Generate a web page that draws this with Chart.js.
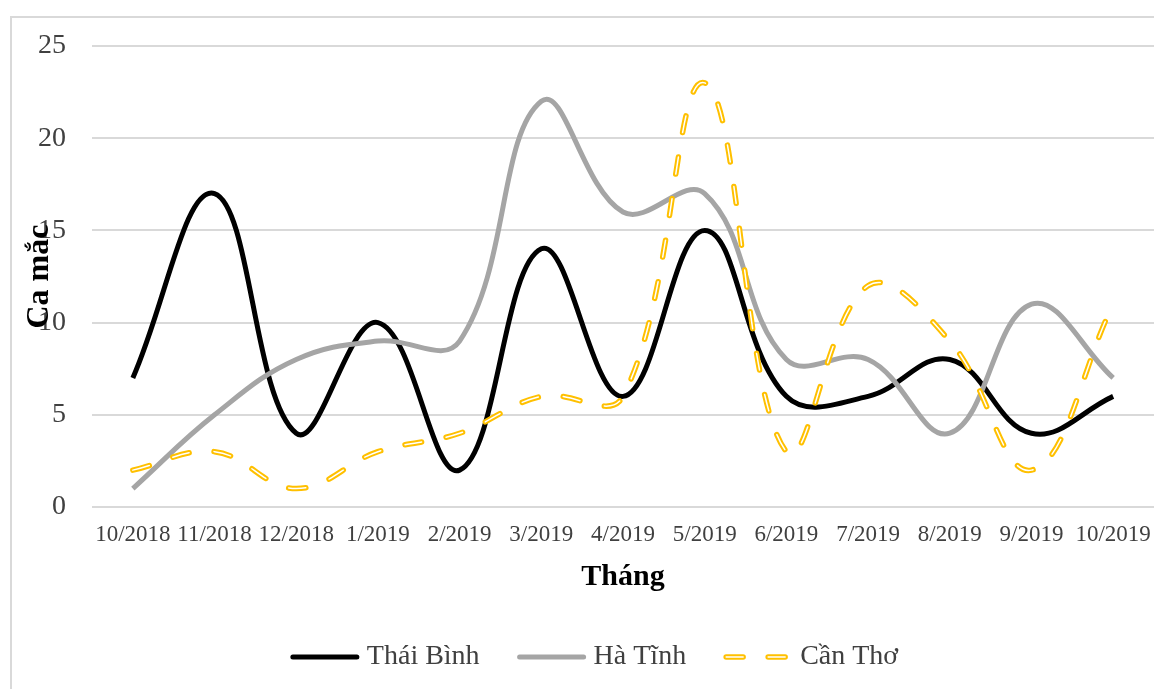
<!DOCTYPE html>
<html>
<head>
<meta charset="utf-8">
<script src="https://cdn.jsdelivr.net/npm/chart.js@4/dist/chart.umd.min.js"></script>
<style>
  html, body { margin: 0; padding: 0; background: #fff; overflow: hidden; }
  #wrap { position: relative; width: 1154px; height: 689px; overflow: hidden; }
  #frame { position: absolute; left: 10px; top: 16px; width: 1200px; height: 700px; border: 2px solid #d9d9d9; box-sizing: border-box; }
  #chart { position: absolute; left: 0; top: 0; }
</style>
</head>
<body>
<div id="wrap">
  <div id="frame"></div>
  <canvas id="chart" width="1160" height="689"></canvas>
</div>
<script>
const months = ['10/2018', '11/2018', '12/2018', '1/2019', '2/2019', '3/2019', '4/2019',
  '5/2019', '6/2019', '7/2019', '8/2019', '9/2019', '10/2019'];
const thaiBinh = [7, 17, 4, 10, 2, 14, 6, 15, 6, 6, 8, 4, 6];
const haTinh = [1, 5, 8, 9, 9, 22, 16, 17, 8, 8, 4, 11, 7];
const canTho = [2, 3, 1, 3, 4, 6, 6, 23, 3, 12, 9, 2, 11];
const yTicks = [0, 5, 10, 15, 20, 25];

const serif = '"Liberation Serif", "Times New Roman", serif';
const dash = [17, 25];

// y title overlaps the tick labels like in the original, so draw it by hand
const yTitle = {
  id: 'yTitle',
  afterDraw(chart) {
    const { ctx, chartArea } = chart;
    ctx.save();
    ctx.translate(40, (chartArea.top + chartArea.bottom) / 2);
    ctx.rotate(-Math.PI / 2);
    ctx.font = 'bold 32px ' + serif;
    ctx.fillStyle = '#000';
    ctx.textAlign = 'center';
    ctx.textBaseline = 'middle';
    ctx.fillText('Ca mắc', 0, 0);
    ctx.restore();
  }
};

// legend with line samples (the dashed one has a white core)
const lineLegend = {
  id: 'lineLegend',
  afterDraw(chart) {
    const { ctx } = chart;
    const items = chart.data.datasets.filter(d => !d.hideInLegend);
    const sample = 70, textGap = 7, itemGap = 37, y = 657;
    ctx.save();
    ctx.font = '28px ' + serif;
    let total = 0;
    items.forEach((d, i) => {
      total += sample + textGap + ctx.measureText(d.label).width + (i ? itemGap : 0);
    });
    let x = 594 - total / 2;
    items.forEach(d => {
      ctx.lineCap = 'round';
      ctx.setLineDash(d.borderDash ? [17, 25] : []);
      ctx.strokeStyle = d.borderColor;
      ctx.lineWidth = d.borderWidth;
      ctx.beginPath();
      ctx.moveTo(x + 3, y);
      ctx.lineTo(x + sample - 3, y);
      ctx.stroke();
      if (d.borderDash) {
        ctx.strokeStyle = '#ffffff';
        ctx.lineWidth = 1.5;
        ctx.stroke();
      }
      ctx.setLineDash([]);
      x += sample + textGap;
      ctx.fillStyle = '#404040';
      ctx.textAlign = 'left';
      ctx.textBaseline = 'middle';
      ctx.fillText(d.label, x, y);
      x += ctx.measureText(d.label).width + itemGap;
    });
    ctx.restore();
  }
};

new Chart(document.getElementById('chart'), {
  type: 'line',
  data: {
    labels: months,
    datasets: [
      {
        label: 'Thái Bình',
        data: thaiBinh,
        borderColor: '#000000',
        borderWidth: 5,
        order: 4
      },
      {
        label: 'Hà Tĩnh',
        data: haTinh,
        borderColor: '#a5a5a5',
        borderWidth: 5,
        order: 3
      },
      {
        label: 'Cần Thơ',
        data: canTho,
        borderColor: '#ffc000',
        borderWidth: 5.5,
        borderDash: dash,
        borderCapStyle: 'round',
        order: 2
      },
      {
        label: 'Cần Thơ (core)',
        hideInLegend: true,
        data: canTho,
        borderColor: '#ffffff',
        borderWidth: 1.5,
        borderDash: dash,
        borderCapStyle: 'round',
        order: 1
      }
    ]
  },
  options: {
    responsive: false,
    animation: false,
    layout: { padding: { top: 46, right: 6, bottom: 58, left: 0 } },
    elements: {
      point: { radius: 0, hoverRadius: 0 },
      line: { tension: 0.4, fill: false }
    },
    scales: {
      x: {
        offset: true,
        grid: { display: false },
        border: { display: false },
        ticks: {
          color: '#404040',
          font: { family: serif, size: 23 },
          padding: 6,
          maxRotation: 0,
          autoSkip: false
        },
        title: {
          display: true,
          text: 'Tháng',
          color: '#000',
          font: { family: serif, size: 30, weight: 'bold' },
          padding: { top: 0, bottom: 36 }
        },
        afterFit(scale) { scale.height = 124; }
      },
      y: {
        min: 0,
        max: 25,
        afterBuildTicks(scale) { scale.ticks = yTicks.map(v => ({ value: v })); },
        grid: { color: '#d9d9d9', lineWidth: 2, drawTicks: false },
        border: { display: false },
        ticks: {
          color: '#404040',
          font: { family: serif, size: 28 },
          padding: 26
        },
        afterFit(scale) { scale.width = 92; }
      }
    },
    plugins: {
      tooltip: { enabled: false },
      legend: { display: false }
    }
  },
  plugins: [yTitle, lineLegend]
});
</script>
</body>
</html>
